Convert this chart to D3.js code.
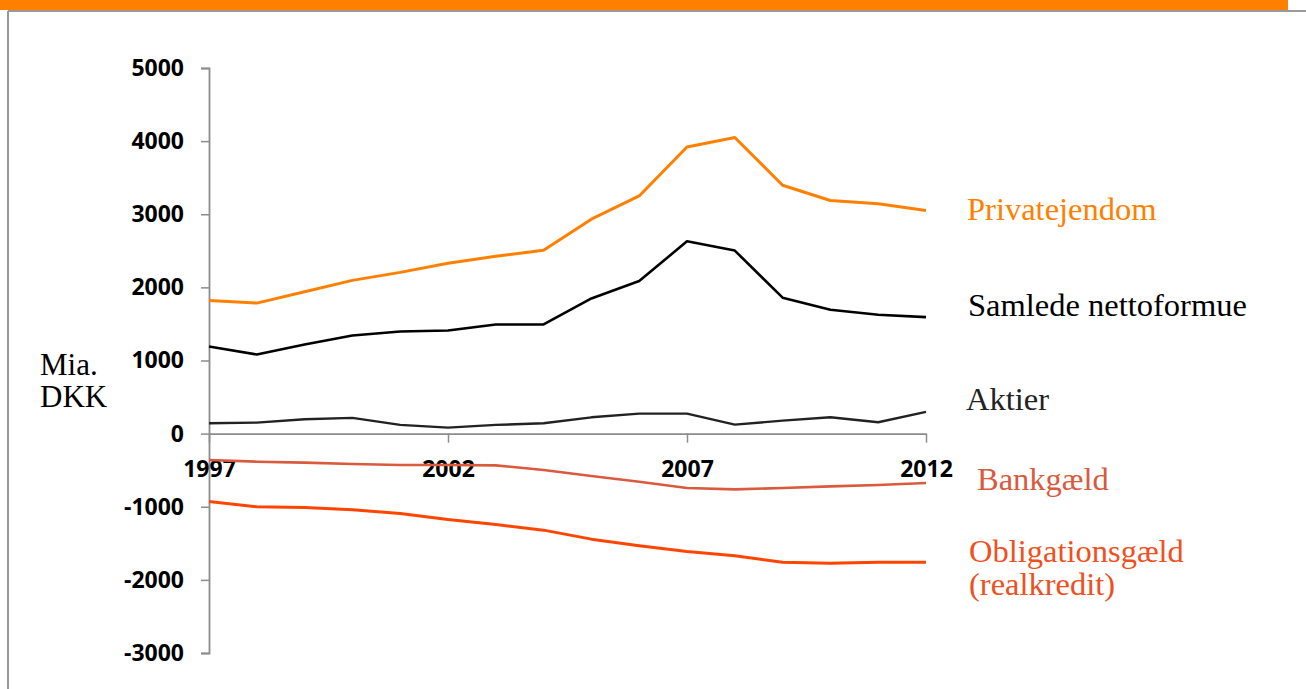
<!DOCTYPE html>
<html>
<head>
<meta charset="utf-8">
<script src="https://cdn.jsdelivr.net/npm/d3@7"></script>
<style>
  html, body { margin: 0; padding: 0; background: #fff; }
  svg { display: block; }
</style>
</head>
<body>
<svg id="chart" width="1306" height="689"></svg>
<script>
// ---- Data (Mia. DKK) ----
const years = [1997,1998,1999,2000,2001,2002,2003,2004,2005,2006,2007,2008,2009,2010,2011,2012];
const privatejendom = [1822,1785,1940,2096,2205,2329,2425,2507,2932,3250,3920,4050,3397,3188,3143,3052];
const samledeNettoformue = [1192,1082,1219,1342,1397,1411,1493,1493,1849,2086,2630,2503,1859,1694,1626,1593];
const aktier = [142,151,196,215,119,82,119,141,223,274,274,123,178,223,155,297];
const bankgaeld = [-360,-384,-397,-415,-429,-429,-434,-497,-580,-658,-744,-763,-744,-722,-703,-676];
const obligationsgaeld = [-927,-1000,-1009,-1041,-1091,-1174,-1242,-1320,-1443,-1534,-1612,-1671,-1758,-1772,-1758,-1758];
const yTicks = [-3000,-2000,-1000,0,1000,2000,3000,4000,5000];
const xTicks = [1997,2002,2007,2012];
const seriesNames = ["Privatejendom","Samlede nettoformue","Aktier","Bankgæld","Obligationsgæld (realkredit)"];

const series = [
  { name: seriesNames[0], values: privatejendom, color: "#FF8000", width: 3, label: ["Privatejendom"], lx: 967, ly: 220, lcolor: "#FF8000" },
  { name: seriesNames[1], values: samledeNettoformue, color: "#000000", width: 2.6, label: ["Samlede nettoformue"], lx: 968, ly: 316, lcolor: "#000000" },
  { name: seriesNames[2], values: aktier, color: "#222222", width: 2.4, label: ["Aktier"], lx: 966, ly: 410, lcolor: "#222222" },
  { name: seriesNames[3], values: bankgaeld, color: "#D95A3C", width: 2.6, label: ["Bankgæld"], lx: 977, ly: 490, lcolor: "#D95A3C" },
  { name: seriesNames[4], values: obligationsgaeld, color: "#FF4500", width: 3, label: ["Obligationsgæld", "(realkredit)"], lx: 969, ly: 562, lcolor: "#F0501E" }
];

const svg = d3.select("#chart");

// Slide frame
svg.append("rect").attr("x", 0).attr("y", 0).attr("width", 1288).attr("height", 10).attr("fill", "#FF8000");
svg.append("line").attr("x1", 8).attr("x2", 1306).attr("y1", 11).attr("y2", 11).attr("stroke", "#9a9a9a").attr("stroke-width", 2);
svg.append("line").attr("x1", 8).attr("x2", 8).attr("y1", 11).attr("y2", 689).attr("stroke", "#9a9a9a").attr("stroke-width", 2);

const x = d3.scaleLinear().domain([1997, 2012]).range([209, 926]);
const y = d3.scaleLinear().domain([-3000, 5000]).range([653, 68]);

const tickFont = "'Open Sans', 'Liberation Sans', sans-serif";
const fmt = d => String(d);

// Y axis
const yAxis = svg.append("g").attr("transform", `translate(${x(1997)},0)`)
  .call(d3.axisLeft(y).tickValues(yTicks).tickFormat(fmt).tickSize(8).tickPadding(17));
yAxis.select(".domain").attr("stroke", "#8c8c8c").attr("stroke-width", 1.8);
yAxis.selectAll(".tick line").attr("stroke", "#8c8c8c").attr("stroke-width", 1.5);
yAxis.selectAll(".tick text")
  .attr("font-family", tickFont)
  .attr("font-weight", "bold").attr("font-size", 23).attr("fill", "#000");

// X axis at zero
const xAxis = svg.append("g").attr("transform", `translate(0,${y(0)})`)
  .call(d3.axisBottom(x).tickValues(xTicks).tickFormat(fmt).tickSize(9).tickSizeOuter(0).tickPadding(18));
xAxis.select(".domain").attr("stroke", "#8c8c8c").attr("stroke-width", 1.8);
xAxis.selectAll(".tick line").attr("stroke", "#8c8c8c").attr("stroke-width", 1.5);
xAxis.selectAll(".tick text")
  .attr("font-family", tickFont)
  .attr("font-weight", "bold").attr("font-size", 23).attr("fill", "#000");

// Lines
const line = d3.line().x((d, i) => x(years[i])).y(d => y(d));
series.forEach(s => {
  svg.append("path").datum(s.values)
    .attr("d", line).attr("fill", "none")
    .attr("stroke", s.color).attr("stroke-width", s.width)
    .attr("stroke-linejoin", "round");
});

// Series labels
const serif = "'Liberation Serif', 'Times New Roman', serif";
series.forEach(s => {
  const t = svg.append("text").attr("x", s.lx).attr("y", s.ly)
    .attr("font-family", serif).attr("font-size", 32.5).attr("fill", s.lcolor);
  s.label.forEach((ln, i) => {
    t.append("tspan").attr("x", s.lx).attr("dy", i === 0 ? 0 : 33).text(ln);
  });
});

// Y axis title
const yt = svg.append("text").attr("x", 40).attr("y", 375)
  .attr("font-family", serif).attr("font-size", 31).attr("fill", "#000");
yt.append("tspan").attr("x", 40).attr("dy", 0).text("Mia.");
yt.append("tspan").attr("x", 40).attr("dy", 32).text("DKK");
</script>
</body>
</html>
